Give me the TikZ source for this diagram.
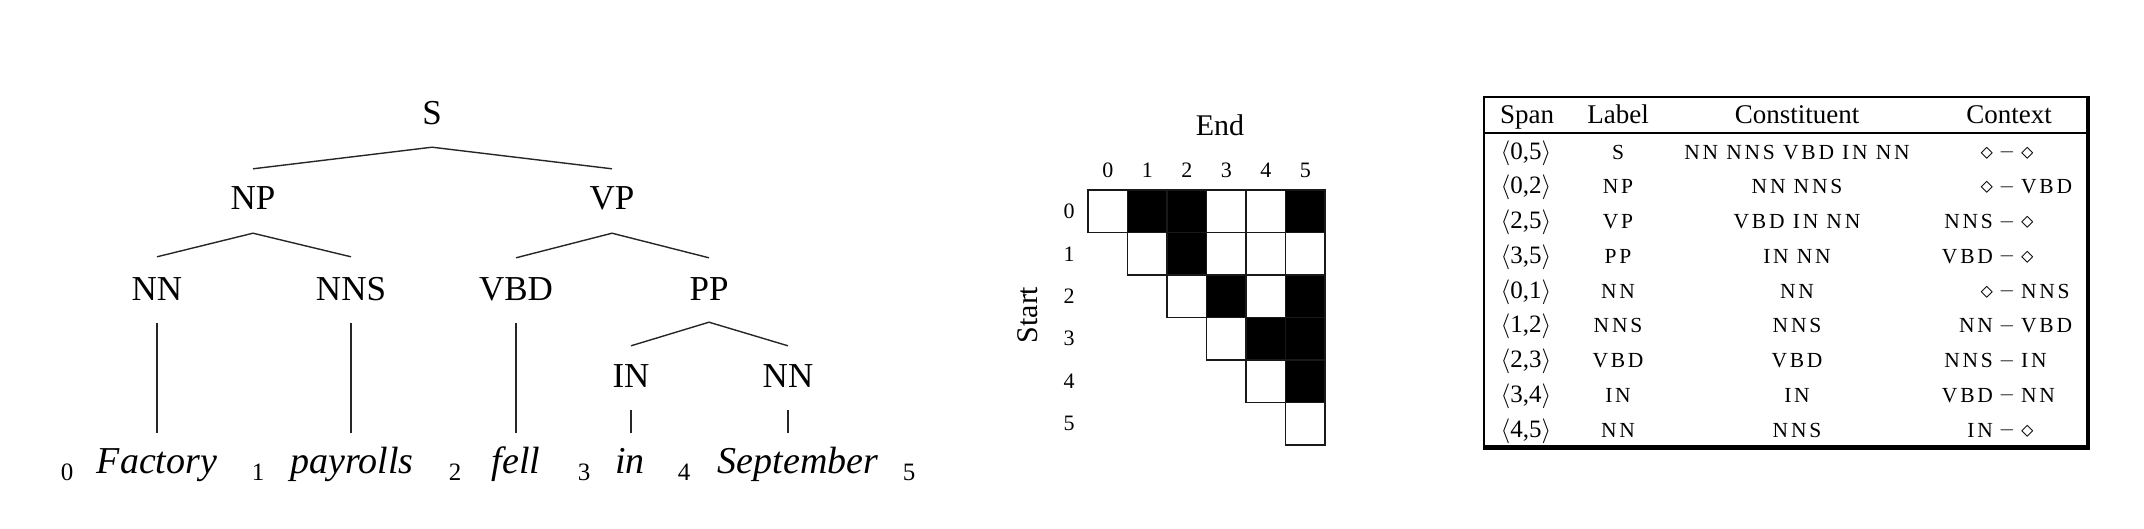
\documentclass[tikz,border=0pt]{standalone}
\usepackage{fontspec}
\setmainfont{Liberation Serif}
\newfontfamily\tagfont[LetterSpace=13]{Liberation Serif}
\newcommand\dmd{\raisebox{0pt}{\fontsize{38}{38}\selectfont$\diamond$}}
\begin{document}
\begin{tikzpicture}[x=1pt,y=-1pt,
  lbl/.style={inner sep=0pt, text height=24pt, text depth=0pt, font=\fontsize{35}{40}\selectfont},
  word/.style={inner sep=0pt, anchor=base, text height=26pt, text depth=8pt, font=\fontsize{38}{44}\selectfont\itshape},
  idx/.style={inner sep=0pt, anchor=base, font=\fontsize{25}{30}\selectfont},
  edge/.style={line width=1.4pt, black!85},
  cell/.style={line width=1.6pt, draw=black!90},
  gnum/.style={inner sep=0pt, font=\fontsize{22}{26}\selectfont},
  glab/.style={inner sep=0pt, font=\fontsize{30}{34}\selectfont},
  head/.style={inner sep=0pt, anchor=base, font=\fontsize{27}{32}\selectfont},
  spn/.style={inner sep=0pt, anchor=base, font=\fontsize{25}{30}\selectfont},
  tag/.style={inner sep=0pt, anchor=base, font=\fontsize{21.5}{25}\tagfont}]
\useasboundingbox (0,0) rectangle (2144,528);

% ---------------- tree ----------------
\node[lbl] (S) at (432,112) {S};
\node[lbl] (NP) at (253,197) {NP};
\node[lbl] (VP) at (612,197) {VP};
\node[lbl] (NN1) at (157,288) {NN};
\node[lbl] (NNS) at (351,288) {NNS};
\node[lbl] (VBD) at (516,288) {VBD};
\node[lbl] (PP) at (709,288) {PP};
\node[lbl] (IN) at (631,375) {IN};
\node[lbl] (NN2) at (788,375) {NN};

\node[word] (w1) at (157,473) {Factory};
\node[word] (w2) at (352,473) {payrolls};
\node[word] (w3) at (516,473) {fell};
\node[word] (w4) at (630,473) {in};
\node[word] (w5) at (798,473) {September};

\node[idx] (i0) at (67,480) {0};
\node[idx] (i1) at (258,480) {1};
\node[idx] (i2) at (455,480) {2};
\node[idx] (i3) at (584,480) {3};
\node[idx] (i4) at (684,480) {4};
\node[idx] (i5) at (909,480) {5};

\draw[edge] ([yshift=16pt]NP.north) -- ([yshift=-23pt]S.south) -- ([yshift=16pt]VP.north);
\draw[edge] ([yshift=19pt]NN1.north) -- ([yshift=-24pt]NP.south) -- ([yshift=19pt]NNS.north);
\draw[edge] ([yshift=18pt]VBD.north) -- ([yshift=-24pt]VP.south) -- ([yshift=18pt]PP.north);
\draw[edge] ([yshift=17pt]IN.north) -- ([yshift=-22pt]PP.south) -- ([yshift=17pt]NN2.north);
\draw[edge] ([yshift=-23pt]NN1.south) -- ([yshift=14pt]NN1.south |- w1.north);
\draw[edge] ([yshift=-23pt]NNS.south) -- ([yshift=14pt]NNS.south |- w2.north);
\draw[edge] ([yshift=-23pt]VBD.south) -- ([yshift=14pt]VBD.south |- w3.north);
\draw[edge] ([yshift=-23pt]IN.south) -- ([yshift=14pt]IN.south |- w4.north);
\draw[edge] ([yshift=-23pt]NN2.south) -- ([yshift=14pt]NN2.south |- w5.north);

% ---------------- chart ----------------
\foreach \i/\j/\c in {0/0/white,0/1/black,0/2/black,0/3/white,0/4/white,0/5/black,
  1/1/white,1/2/black,1/3/white,1/4/white,1/5/white,
  2/2/white,2/3/black,2/4/white,2/5/black,
  3/3/white,3/4/black,3/5/black,
  4/4/white,4/5/black,
  5/5/white}
  \draw[cell, fill=\c] ({1088+39.5*\j},{190+42.5*\i}) rectangle ++(39.5,42.5);
\foreach \j in {0,...,5}
  \node[gnum] (col\j) at ({1088+39.5*\j+19.75},170) {\j};
\foreach \i in {0,...,5}
  \node[gnum] (row\i) at (1069,{190+42.5*\i+21.25}) {\i};
\node[glab] (end) at (1220,125) {End};
\node[glab, rotate=90] (start) at (1028,315) {Start};

% ---------------- table ----------------
\draw[line width=2pt] (1484,97) rectangle (2088,446);
\draw[line width=4pt] (2088,96) -- (2088,448) -- (1483,448);
\draw[line width=1.6pt] (1484,133) -- (2088,133);
\node[head] (hspan) at (1527,123) {Span};
\node[head] (hlabel) at (1618,123) {Label};
\node[head] (hcons) at (1797,123) {Constituent};
\node[head] (hctx) at (2009,123) {Context};

\foreach \a/\b/\la/\co/\cxl/\cxr [count=\k from 0] in {
  0/5/S/NN NNS VBD IN NN/\dmd/\dmd,
  0/2/NP/NN NNS/\dmd/VBD,
  2/5/VP/VBD IN NN/NNS/\dmd,
  3/5/PP/IN NN/VBD/\dmd,
  0/1/NN/NN/\dmd/NNS,
  1/2/NNS/NNS/NN/VBD,
  2/3/VBD/VBD/NNS/IN,
  3/4/IN/IN/VBD/NN,
  4/5/NN/NNS/IN/\dmd}
{
  \node[spn] (sp\k) at (1526,{159+34.75*\k}) {$\langle$\a,\b$\rangle$};
  \node[tag] (lb\k) at (1618,{159+34.75*\k}) {\la};
  \node[tag] (co\k) at (1797,{159+34.75*\k}) {\co};
  \node[tag] (cx\k) at (2007,{159+34.75*\k}) {\makebox[0pt][r]{\cxl\hspace{6pt}}\raisebox{1.5pt}{\fontsize{21}{24}\selectfont$-$}\makebox[0pt][l]{\hspace{6pt}\cxr}};
}
\end{tikzpicture}
\end{document}
